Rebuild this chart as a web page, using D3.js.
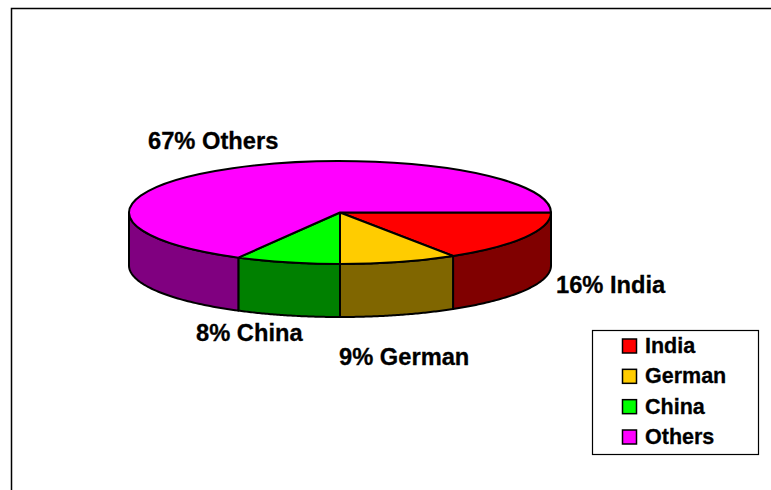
<!DOCTYPE html>
<html>
<head>
<meta charset="utf-8">
<script src="https://cdn.jsdelivr.net/npm/d3@7"></script>
<style>
    html, body { margin: 0; padding: 0; background: #fff; overflow: hidden; }
    svg { display: block; }
    text { font-family: "Liberation Sans", Arial, sans-serif; font-weight: bold; fill: #000; stroke: #000; stroke-width: 0.3px; }
</style>
</head>
<body>
<div id="chart"></div>
<script>
// Chart data
const categories = ["India", "German", "China", "Others"];
const shares = [16, 9, 8, 67];
const topColors = ["#ff0000", "#ffcc00", "#00ff00", "#ff00ff"];
const sideColors = ["#800000", "#806600", "#008000", "#800080"];

const width = 771, height = 490;
const cx = 340, cy = 212.5;     // centre of the top face
const rx = 211, ry = 51.5;      // ellipse radii
const depth = 53;

const svg = d3.select("#chart").append("svg")
    .attr("width", width)
    .attr("height", height);

// Outer frame, only top and left show in the picture
svg.append("path")
    .attr("d", "M11.5,490V8.5H771")
    .attr("fill", "none")
    .attr("stroke", "#000")
    .attr("stroke-width", 1.5);

// d3.pie angles start at 12 o'clock, first slice starts at 3 o'clock
const pie = d3.pie().sort(null)
    .startAngle(Math.PI / 2)
    .endAngle(Math.PI / 2 + 2 * Math.PI);
const slices = pie(shares);

const ellipseX = a => cx + rx * Math.sin(a);
const ellipseY = a => cy - ry * Math.cos(a);

// Rim of one slice, clipped to the front half of the disc
const sidePath = (d) => {
    const a0 = Math.max(d.startAngle, Math.PI / 2);
    const a1 = Math.min(d.endAngle, 3 * Math.PI / 2);
    if (a1 <= a0) return null;
    const steps = d3.range(0, 61).map(i => a0 + (a1 - a0) * i / 60);
    const top = steps.map(a => [ellipseX(a), ellipseY(a)]);
    const bottom = steps.slice().reverse().map(a => [ellipseX(a), ellipseY(a) + depth]);
    return d3.line()(top.concat(bottom)) + "Z";
};

const sides = svg.append("g");
slices.forEach((d, i) => {
    const p = sidePath(d);
    if (!p) return;
    sides.append("path")
        .attr("d", p)
        .attr("fill", sideColors[i])
        .attr("stroke", "#000")
        .attr("stroke-width", 2)
        .attr("stroke-linejoin", "round");
});

// Top face: a normal arc squashed into an ellipse
const arc = d3.arc().innerRadius(0).outerRadius(rx);
svg.append("g")
    .attr("transform", `translate(${cx},${cy}) scale(1,${ry / rx})`)
    .selectAll("path")
    .data(slices)
    .enter()
    .append("path")
    .attr("d", arc)
    .attr("fill", (d, i) => topColors[i])
    .attr("stroke", "#000")
    .attr("stroke-width", 2)
    .attr("stroke-linejoin", "round")
    .attr("vector-effect", "non-scaling-stroke");

// Data labels
const labelPos = [[556, 293], [339, 365], [196, 341], [148, 149]];
svg.selectAll("text.label")
    .data(categories)
    .enter()
    .append("text")
    .attr("class", "label")
    .attr("x", (d, i) => labelPos[i][0])
    .attr("y", (d, i) => labelPos[i][1])
    .attr("font-size", 23.7)
    .text((d, i) => `${shares[i]}% ${d}`);

// Legend
const legend = svg.append("g");
legend.append("rect")
    .attr("x", 592.5).attr("y", 330.5)
    .attr("width", 166).attr("height", 124)
    .attr("fill", "#fff")
    .attr("stroke", "#000")
    .attr("stroke-width", 1.2);

const legendY = d3.scalePoint().domain(categories).range([346, 437]);
categories.forEach((c, i) => {
    legend.append("rect")
        .attr("x", 622.5).attr("y", legendY(c) - 7)
        .attr("width", 14).attr("height", 14)
        .attr("fill", topColors[i])
        .attr("stroke", "#000")
        .attr("stroke-width", 1.5);
    legend.append("text")
        .attr("x", 645).attr("y", legendY(c) + 7)
        .attr("font-size", 21.5)
        .text(c);
});
</script>
</body>
</html>
